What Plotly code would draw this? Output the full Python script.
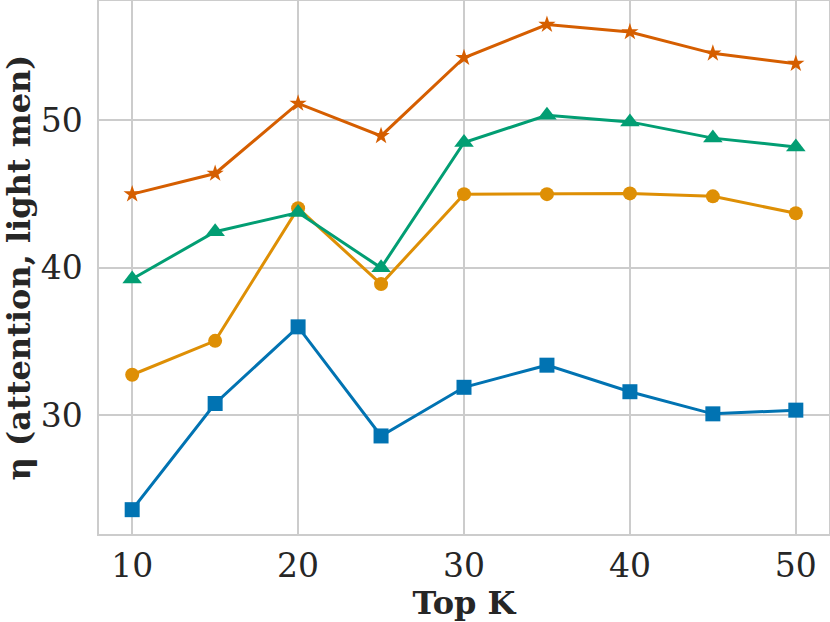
import plotly.graph_objects as go

top_k = [10, 15, 20, 25, 30, 35, 40, 45, 50]
blue_sq = [23.6, 30.8, 36.0, 28.6, 31.9, 33.4, 31.6, 30.1, 30.35]
orange_ci = [32.75, 35.05, 44.05, 38.9, 45.0, 45.0, 45.05, 44.85, 43.7]
green_tri = [39.25, 42.45, 43.75, 40.0, 48.5, 50.35, 49.9, 48.8, 48.2]
red_star = [45.0, 46.4, 51.15, 48.95, 54.25, 56.5, 56.0, 54.55, 53.85]

series = [
    ("blue", blue_sq, "#0173b2", "square", 15),
    ("orange", orange_ci, "#de8f05", "circle", 14),
    ("green", green_tri, "#029e73", "triangle-up", 17),
    ("red", red_star, "#d55e00", "star", 13),
]

fig = go.Figure()
for name, vals, col, sym, sz in series:
    fig.add_trace(go.Scatter(
        x=top_k, y=vals, mode="lines+markers", name=name,
        line=dict(color=col, width=3),
        marker=dict(symbol=sym, size=sz, color=col),
        showlegend=False,
    ))

axis_common = dict(
    showgrid=True, gridcolor="#cccccc", gridwidth=1.5,
    showline=True, linecolor="#cccccc", linewidth=1.5, mirror=True,
    zeroline=False, ticks="",
    tickfont=dict(family="DejaVu Serif", size=33, color="#262626"),
)

fig.update_layout(
    width=830, height=622,
    margin=dict(l=99, r=1, t=1, b=88),
    plot_bgcolor="white", paper_bgcolor="white",
    xaxis=dict(range=[8, 52], tickvals=[10, 20, 30, 40, 50], ticklabelstandoff=2,
               title=dict(text="<b>Top K</b>", font=dict(family="DejaVu Serif", size=32, color="#262626"), standoff=13),
               automargin=False, **axis_common),
    yaxis=dict(range=[21.95, 58.1], tickvals=[30, 40, 50], ticklabelstandoff=8,
               title=dict(text="<b>η (attention, light men)</b>", font=dict(family="DejaVu Serif", size=32, color="#262626"), standoff=8),
               automargin=False, **axis_common),
)

fig.write_html("out.html", config={"displayModeBar": False},
               post_script="document.body.style.margin='0px';document.body.style.padding='0px';")
